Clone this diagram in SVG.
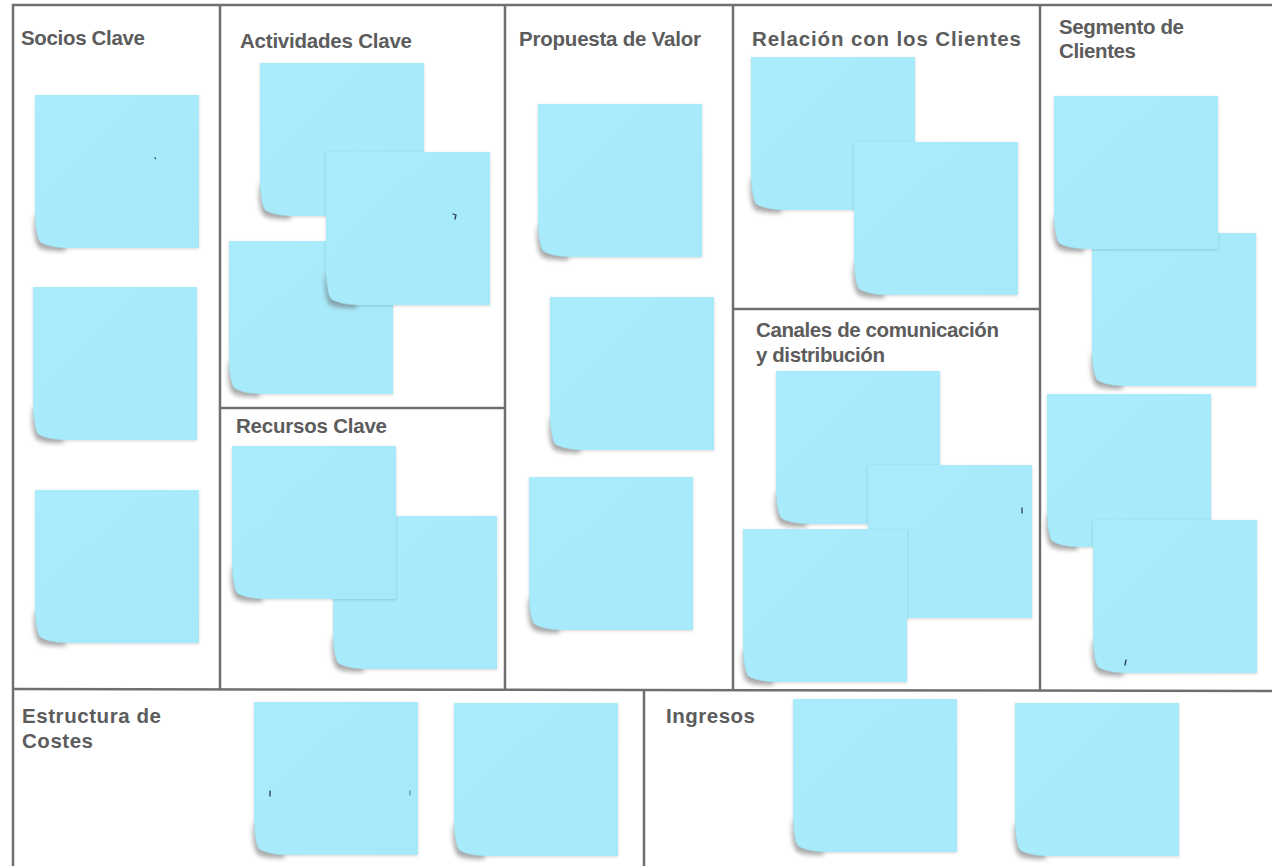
<svg xmlns="http://www.w3.org/2000/svg" xmlns:xlink="http://www.w3.org/1999/xlink" width="1272" height="866" viewBox="0 0 1272 866">
<style>
.t{font-family:"Liberation Sans",Arial,sans-serif;font-weight:bold;font-size:20.5px;fill:#5c5c5c}
.ln{stroke:#6f6f6f;stroke-width:2.5;fill:none}
.mk{stroke:#2a3f4a;stroke-width:1.3;stroke-linecap:round;fill:none}
</style>
<defs>
<filter id="blur" x="-50%" y="-50%" width="200%" height="200%"><feGaussianBlur stdDeviation="2"/></filter>
<filter id="soft" x="-10%" y="-10%" width="120%" height="120%"><feDropShadow dx="0" dy="1" stdDeviation="1.4" flood-color="#000" flood-opacity="0.16"/></filter>
<linearGradient id="ng" x1="0" y1="0" x2="1" y2="1"><stop offset="0" stop-color="#aaecfc"/><stop offset="1" stop-color="#a5e9fa"/></linearGradient>
<symbol id="note" viewBox="-6 -4 176 164" width="176" height="164" overflow="visible">
<path d="M-1,118 Q-3,146 4,153 Q12,157 32,156 L28,151 Q10,150 4,143 Z" fill="#727272" opacity="0.55" filter="url(#blur)"/>
<path d="M0,0 H164 V153 H30 Q12,152 5,147 Q1,141 0,120 Z" fill="url(#ng)" filter="url(#soft)"/>
<path d="M0,122 Q1,141 5,147 Q12,152 30,153" fill="none" stroke="#9cc3cf" stroke-width="1" opacity="0.5"/>
</symbol>
</defs>

<g id="frame">
<rect x="13" y="5" width="1262" height="865" class="ln" stroke-width="3"/>
<line class="ln" x1="220" y1="5" x2="220" y2="689"/>
<line class="ln" x1="505" y1="5" x2="505" y2="689"/>
<line class="ln" x1="733" y1="5" x2="733" y2="689"/>
<line class="ln" x1="1040" y1="5" x2="1040" y2="690"/>
<line class="ln" x1="220" y1="408" x2="505" y2="408"/>
<line class="ln" x1="733" y1="309" x2="1040" y2="309"/>
<line class="ln" x1="13" y1="689" x2="1272" y2="691"/>
<line class="ln" x1="644" y1="689" x2="644" y2="866"/>
</g>

<g id="socios-clave">
<text class="t" x="21" y="45" textLength="124" lengthAdjust="spacing">Socios Clave</text>
<use href="#note" x="29" y="91" width="176" height="164"/>
<use href="#note" x="27" y="283" width="176" height="164"/>
<use href="#note" x="29" y="486" width="176" height="164"/>
<line class="mk" x1="155" y1="158" x2="155.5" y2="158.5"/>
</g>

<g id="actividades-clave">
<text class="t" x="240" y="48" textLength="172" lengthAdjust="spacing">Actividades Clave</text>
<use href="#note" x="254" y="59" width="176" height="164"/>
<use href="#note" x="223" y="237" width="176" height="164"/>
<use href="#note" x="320" y="148" width="176" height="164"/>
<path class="mk" d="M453,214 L456,215 L455,219"/>
</g>

<g id="recursos-clave">
<text class="t" x="236" y="433" textLength="151" lengthAdjust="spacing">Recursos Clave</text>
<use href="#note" x="327" y="512" width="176" height="164"/>
<use href="#note" x="226" y="442" width="176" height="164"/>
</g>

<g id="propuesta-de-valor">
<text class="t" x="519" y="46" textLength="182" lengthAdjust="spacing">Propuesta de Valor</text>
<use href="#note" x="532" y="100" width="176" height="164"/>
<use href="#note" x="544" y="293" width="176" height="164"/>
<use href="#note" x="523" y="473" width="176" height="164"/>
</g>

<g id="relacion-clientes">
<text class="t" x="752" y="46" textLength="269" lengthAdjust="spacing">Relación con los Clientes</text>
<use href="#note" x="745" y="53" width="176" height="164"/>
<use href="#note" x="848" y="138" width="176" height="164"/>
</g>

<g id="canales">
<text class="t" x="756" y="337" textLength="243" lengthAdjust="spacing">Canales de comunicación</text>
<text class="t" x="756" y="362" textLength="129" lengthAdjust="spacing">y distribución</text>
<use href="#note" x="770" y="367" width="176" height="164"/>
<use href="#note" x="862" y="461" width="176" height="164"/>
<use href="#note" x="737" y="525" width="176" height="164"/>
<line class="mk" x1="1022" y1="508" x2="1022" y2="513"/>
</g>

<g id="segmento-clientes">
<text class="t" x="1059" y="34" textLength="125" lengthAdjust="spacing">Segmento de</text>
<text class="t" x="1059" y="58" textLength="77" lengthAdjust="spacing">Clientes</text>
<use href="#note" x="1086" y="229" width="176" height="164"/>
<use href="#note" x="1048" y="92" width="176" height="164"/>
<use href="#note" x="1041" y="390" width="176" height="164"/>
<use href="#note" x="1087" y="516" width="176" height="164"/>
<line class="mk" x1="1126" y1="660" x2="1125" y2="665"/>
</g>

<g id="estructura-costes">
<text class="t" x="22" y="723" textLength="139" lengthAdjust="spacing">Estructura de</text>
<text class="t" x="22" y="748" textLength="71" lengthAdjust="spacing">Costes</text>
<use href="#note" x="248" y="698" width="176" height="164"/>
<use href="#note" x="448" y="699" width="176" height="164"/>
<line class="mk" x1="270" y1="791" x2="270" y2="796"/>
<line class="mk" x1="410" y1="791" x2="410" y2="795" opacity="0.5"/>
</g>

<g id="ingresos">
<text class="t" x="666" y="723" textLength="89" lengthAdjust="spacing">Ingresos</text>
<use href="#note" x="787" y="695" width="176" height="164"/>
<use href="#note" x="1009" y="699" width="176" height="164"/>
</g>

<g id="connectors"/>
</svg>
